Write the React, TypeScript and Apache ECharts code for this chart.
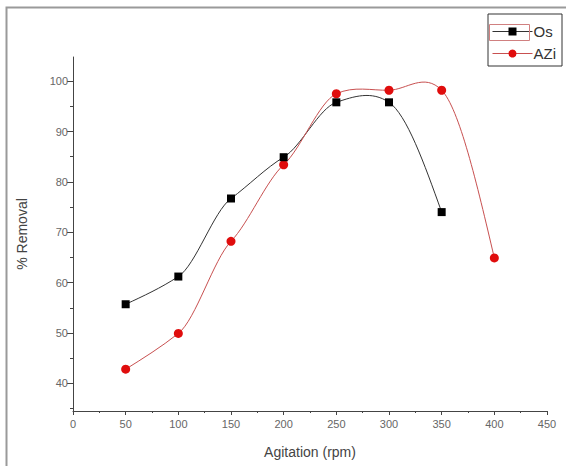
import React, { useEffect, useRef } from "react";
import * as echarts from "echarts";

const agitation = [50, 100, 150, 200, 250, 300, 350, 400];
const osValues = [55.7, 61.2, 76.7, 84.9, 95.8, 95.8, 74.0];
const aziValues = [42.8, 49.9, 68.2, 83.4, 97.5, 98.2, 98.2, 64.9];
const yMajor = [40, 50, 60, 70, 80, 90, 100];
const yMinor = [35, 45, 55, 65, 75, 85, 95];

// cardinal spline tangents with natural-style end conditions
function splineSegments(xs: number[], ys: number[], k: number) {
  const n = xs.length;
  const s = new Array(n).fill(0);
  for (let i = 1; i < n - 1; i++) s[i] = (k * (ys[i + 1] - ys[i - 1])) / (xs[i + 1] - xs[i - 1]);
  const c0 = (ys[1] - ys[0]) / (xs[1] - xs[0]);
  const cn = (ys[n - 1] - ys[n - 2]) / (xs[n - 1] - xs[n - 2]);
  s[0] = n > 2 ? (3 * c0 - s[1]) / 2 : c0;
  s[n - 1] = n > 2 ? (3 * cn - s[n - 2]) / 2 : cn;
  const segs: { x0: number; y0: number; x1: number; y1: number; s0: number; s1: number }[] = [];
  for (let i = 0; i < n - 1; i++) {
    segs.push({ x0: xs[i], y0: ys[i], x1: xs[i + 1], y1: ys[i + 1], s0: s[i], s1: s[i + 1] });
  }
  return segs;
}

function splineSeries(name: string, values: number[], color: string) {
  const xs = agitation.slice(0, values.length);
  const segs = splineSegments(xs, values, 0.65);
  return {
    name,
    type: "custom",
    silent: true,
    z: 1,
    data: values.map((v, i) => [xs[i], v]),
    encode: { x: 0, y: 1 },
    renderItem: (params: any, api: any) => {
      if (params.dataIndex !== 0) return null;
      let d = "";
      segs.forEach((sg, i) => {
        const h = sg.x1 - sg.x0;
        const p0 = api.coord([sg.x0, sg.y0]);
        const c1 = api.coord([sg.x0 + h / 3, sg.y0 + (h / 3) * sg.s0]);
        const c2 = api.coord([sg.x1 - h / 3, sg.y1 - (h / 3) * sg.s1]);
        const p1 = api.coord([sg.x1, sg.y1]);
        if (i === 0) d += `M${p0[0]},${p0[1]}`;
        d += ` C${c1[0]},${c1[1]} ${c2[0]},${c2[1]} ${p1[0]},${p1[1]}`;
      });
      return {
        type: "path",
        shape: { pathData: d },
        style: { fill: "none", stroke: color, lineWidth: 1 },
      };
    },
  };
}

export default function App() {
  const ref = useRef<HTMLDivElement>(null);
  useEffect(() => {
    if (!ref.current) return;
    const chart = echarts.init(ref.current, null, { renderer: "svg" });
    const font = "Liberation Sans, Arial, sans-serif";
    const osLine = "#333";
    const aziLine = "#c85050";
    chart.setOption({
      animation: false,
      backgroundColor: "#fff",
      grid: { left: 73, right: 19, top: 57, bottom: 55 },
      graphic: [
        {
          type: "rect",
          shape: { x: 6.5, y: 7.5, width: 600, height: 500 },
          style: { fill: "none", stroke: "#9a9a9a", lineWidth: 2 },
          silent: true,
          z: -10,
        },
        {
          type: "rect",
          shape: { x: 489.5, y: 24.5, width: 40, height: 16 },
          style: { fill: "none", stroke: "#d08080", lineWidth: 1 },
          silent: true,
          z: 100,
        },
      ],
      legend: {
        right: 4,
        top: 14,
        orient: "vertical",
        borderColor: "#333",
        borderWidth: 1,
        padding: [10, 6, 5, 4],
        itemGap: 7,
        itemWidth: 40,
        itemHeight: 10,
        textStyle: { fontFamily: font, fontSize: 15, color: "#333", padding: [0, 0, 0, -4] },
        data: [
          { name: "Os", lineStyle: { color: osLine, width: 1, opacity: 1 } },
          { name: "AZi", lineStyle: { color: aziLine, width: 1, opacity: 1 } },
        ],
      },
      xAxis: {
        type: "value",
        min: 0,
        max: 450,
        interval: 50,
        name: "Agitation (rpm)",
        nameLocation: "middle",
        nameGap: 34,
        nameTextStyle: { fontFamily: font, fontSize: 14, color: "#444" },
        axisLine: { show: true, lineStyle: { color: "#444", width: 1 } },
        axisTick: { show: true, length: 4, lineStyle: { color: "#444" } },
        minorTick: { show: true, splitNumber: 2, length: 2, lineStyle: { color: "#444" } },
        axisLabel: { fontFamily: font, fontSize: 11, color: "#666", margin: 7 },
        splitLine: { show: false },
      },
      yAxis: [
        {
          type: "value",
          min: 34.5,
          max: 104.8,
          name: "% Removal",
          nameLocation: "middle",
          nameGap: 44,
          nameTextStyle: { fontFamily: font, fontSize: 14, color: "#444" },
          axisLine: { show: true, lineStyle: { color: "#444", width: 1 } },
          axisTick: { show: true, length: 6, customValues: yMajor, lineStyle: { color: "#444" } },
          axisLabel: { fontFamily: font, fontSize: 11, color: "#666", margin: 5, customValues: yMajor },
          splitLine: { show: false },
        },
        {
          type: "value",
          min: 34.5,
          max: 104.8,
          position: "left",
          axisLine: { show: false },
          axisTick: { show: true, length: 3, customValues: yMinor, lineStyle: { color: "#444" } },
          axisLabel: { show: false, customValues: yMinor },
          splitLine: { show: false },
        },
      ],
      series: [
        splineSeries("Os curve", osValues, osLine),
        splineSeries("AZi curve", aziValues, aziLine),
        {
          name: "Os",
          type: "line",
          data: osValues.map((v, i) => [agitation[i], v]),
          symbol: "rect",
          symbolSize: 8,
          itemStyle: { color: "#000" },
          lineStyle: { color: osLine, width: 1, opacity: 0 },
          z: 4,
        },
        {
          name: "AZi",
          type: "line",
          data: aziValues.map((v, i) => [agitation[i], v]),
          symbol: "circle",
          symbolSize: 9,
          itemStyle: { color: "#e00d0d" },
          lineStyle: { color: aziLine, width: 1, opacity: 0 },
          z: 3,
        },
      ],
    });
    return () => chart.dispose();
  }, []);
  return <div ref={ref} style={{ width: 566, height: 466, position: "absolute", left: 0, top: 0 }} />;
}
